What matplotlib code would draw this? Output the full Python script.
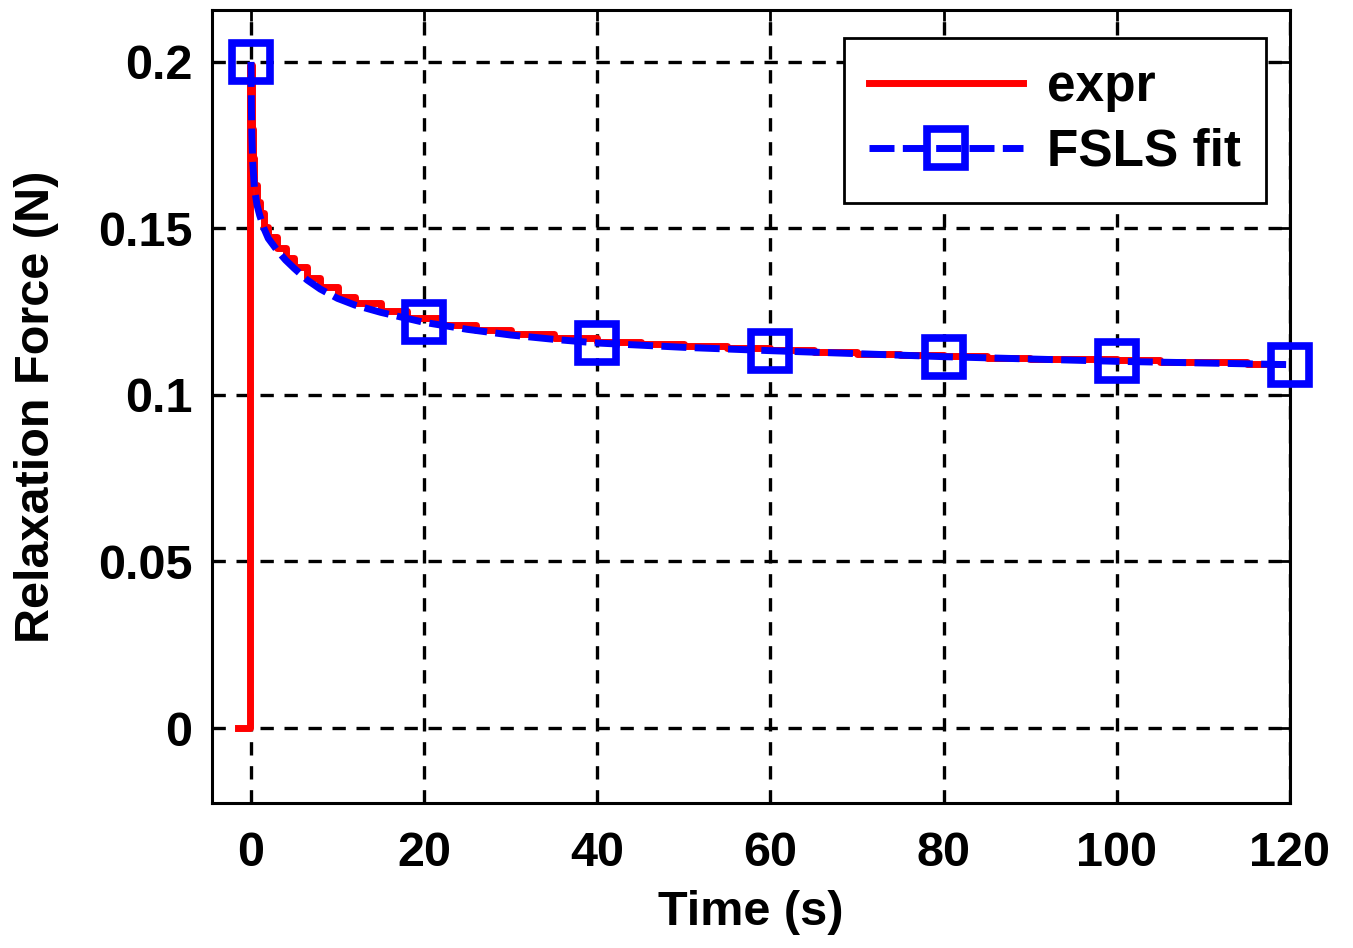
import numpy as np
import matplotlib
matplotlib.use('Agg')
import matplotlib.pyplot as plt

plt.rcParams['font.family'] = ['Liberation Sans', 'DejaVu Sans']
plt.rcParams['font.weight'] = 'bold'

# fitted relaxation curve
fit_t = [0, 0.05, 0.1, 0.2, 0.4, 0.7, 1, 1.5, 2, 3, 4, 5, 6.5, 8, 10, 12, 15,
         20, 25, 30, 35, 40, 50, 60, 70, 80, 90, 100, 110, 120]
fit_f = [0.200, 0.186, 0.178, 0.170, 0.162, 0.157, 0.154, 0.150, 0.147, 0.1435,
         0.1405, 0.138, 0.1345, 0.1318, 0.129, 0.127, 0.1248, 0.1218, 0.1197,
         0.118, 0.1167, 0.1156, 0.1143, 0.1133, 0.1124, 0.1115, 0.1108, 0.1101,
         0.1096, 0.1091]
marker_t = [0, 20, 40, 60, 80, 100, 120]

# experimental data (staircase)
expr_t = [-1.5, -0.1, 0.1, 0.2, 0.4, 0.7, 1.0, 1.5, 2, 3, 4, 5, 6.5, 8, 10, 12,
          15, 18, 22, 26, 30, 35, 40, 45, 50, 55, 60, 65, 70, 75, 80, 85, 90,
          95, 100, 105, 110, 115, 119]
expr_f = [0, 0.199, 0.180, 0.171, 0.163, 0.158, 0.1545, 0.1505, 0.1475, 0.144,
          0.141, 0.1385, 0.135, 0.1325, 0.1295, 0.1275, 0.1252, 0.1232, 0.121,
          0.1195, 0.1183, 0.117, 0.1160, 0.1152, 0.1146, 0.114, 0.1136, 0.1130,
          0.1124, 0.1119, 0.1118, 0.1112, 0.1109, 0.1107, 0.1104, 0.1100,
          0.1098, 0.1094, 0.1093]

xticks = [0, 20, 40, 60, 80, 100, 120]
yticks = [0, 0.05, 0.1, 0.15, 0.2]
ytick_labels = ['0', '0.05', '0.1', '0.15', '0.2']

fig = plt.figure(figsize=(13.53, 9.48), dpi=100)
ax = fig.add_axes([0.1567, 0.1530, 0.7967, 0.8365])

ax.plot(expr_t, expr_f, color='red', lw=5, drawstyle='steps-post',
        label='expr', zorder=3)
marks = [fit_t.index(m) for m in marker_t]
ax.plot(fit_t, fit_f, color='blue', lw=5, linestyle=(0, (3.6, 1.2)),
        marker='s', markersize=27, markeredgewidth=5.5, markerfacecolor='none',
        markeredgecolor='blue', markevery=marks, label='FSLS fit', zorder=4,
        clip_on=False)

ax.set_xlim(-4.5, 120)
ax.set_ylim(-0.0225, 0.2156)
ax.set_xticks(xticks)
ax.set_yticks(yticks)
ax.set_yticklabels(ytick_labels)
ax.tick_params(axis='x', pad=20)
ax.tick_params(axis='y', pad=14)
ax.tick_params(direction='in', length=8, width=2, labelsize=35,
               top=True, right=True)
for s in ax.spines.values():
    s.set_linewidth(2.2)
ax.grid(True, color='black', lw=2.4, linestyle=(0, (4, 3.2)))

ax.set_xlabel('Time (s)', fontsize=35, fontweight='bold', labelpad=10)
ax.set_ylabel('Relaxation Force (N)', fontsize=35, fontweight='bold',
              labelpad=28)

leg = ax.legend(loc='upper right', bbox_to_anchor=(0.978, 0.965),
                borderaxespad=0, fontsize=37, handlelength=3.0,
                handletextpad=0.45, labelspacing=0.3, borderpad=0.5,
                numpoints=1, fancybox=False, framealpha=1,
                edgecolor='black')
leg.get_frame().set_linewidth(2)

fig.savefig('out.png', dpi=100)
